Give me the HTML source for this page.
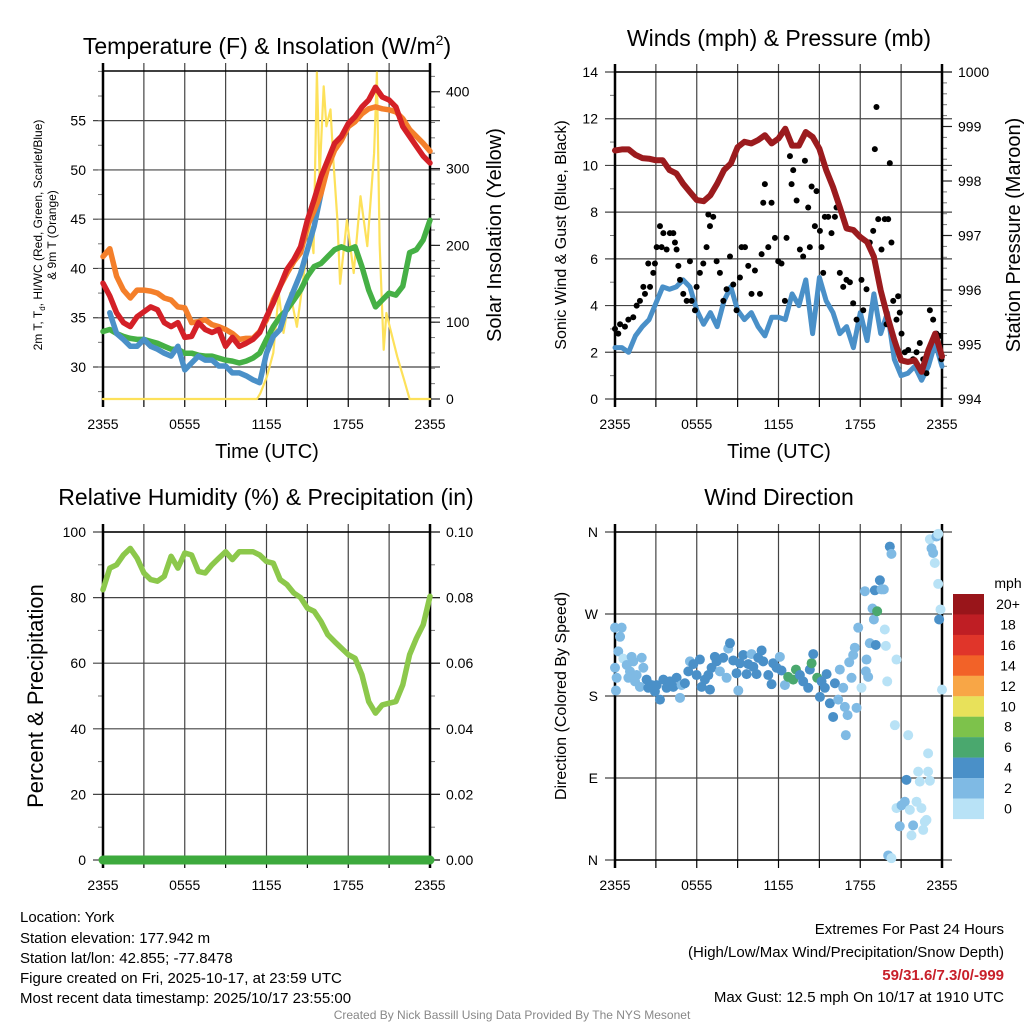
<!DOCTYPE html>
<html><head><meta charset="utf-8">
<style>
html,body{margin:0;padding:0;background:#fff;}
svg{display:block;font-family:"Liberation Sans",sans-serif;}
</style></head>
<body>
<svg id="chart" width="1024" height="1024" viewBox="0 0 1024 1024" xmlns="http://www.w3.org/2000/svg">
<rect width="1024" height="1024" fill="#fff"/>
<g id="p1"></g>
<g id="p2"></g>
<g id="p3"></g>
<g id="p4"></g>

<text x="267" y="54" font-size="23" text-anchor="middle">Temperature (F) &amp; Insolation (W/m<tspan font-size="14" dy="-9">2</tspan><tspan dy="9">)</tspan></text>
<text x="779" y="46" font-size="23" text-anchor="middle">Winds (mph) &amp; Pressure (mb)</text>
<text x="266" y="505" font-size="23" text-anchor="middle">Relative Humidity (%) &amp; Precipitation (in)</text>
<text x="779" y="505" font-size="23" text-anchor="middle">Wind Direction</text>

<text x="267" y="458" font-size="20" text-anchor="middle">Time (UTC)</text>
<text x="779" y="458" font-size="20" text-anchor="middle">Time (UTC)</text>

<text font-size="12" text-anchor="middle" transform="translate(42,235) rotate(-90)">2m T, T<tspan font-size="8" dy="3">d</tspan><tspan dy="-3">, HI/WC (Red, Green, Scarlet/Blue)</tspan></text>
<text font-size="12" text-anchor="middle" transform="translate(56,235) rotate(-90)">&amp; 9m T (Orange)</text>
<text font-size="20" text-anchor="middle" transform="translate(501,235) rotate(-90)">Solar Insolation (Yellow)</text>
<text font-size="16" text-anchor="middle" transform="translate(566,235) rotate(-90)">Sonic Wind &amp; Gust (Blue, Black)</text>
<text font-size="20" text-anchor="middle" transform="translate(1020,235) rotate(-90)">Station Pressure (Maroon)</text>
<text font-size="22" text-anchor="middle" transform="translate(43,696) rotate(-90)">Percent &amp; Precipitation</text>
<text font-size="16" text-anchor="middle" transform="translate(566,696) rotate(-90)">Direction (Colored By Speed)</text>

<g id="colorbar"></g>
<text x="1008" y="588" font-size="14" text-anchor="middle">mph</text>

<g font-size="15">
<text x="20" y="922">Location: York</text>
<text x="20" y="943">Station elevation: 177.942 m</text>
<text x="20" y="963">Station lat/lon: 42.855; -77.8478</text>
<text x="20" y="983">Figure created on Fri, 2025-10-17, at 23:59 UTC</text>
<text x="20" y="1003">Most recent data timestamp: 2025/10/17 23:55:00</text>
</g>
<g font-size="15" text-anchor="end">
<text x="1004" y="934">Extremes For Past 24 Hours</text>
<text x="1004" y="957">(High/Low/Max Wind/Precipitation/Snow Depth)</text>
<text x="1004" y="980" fill="#c8202a" font-weight="bold">59/31.6/7.3/0/-999</text>
<text x="1004" y="1002">Max Gust: 12.5 mph On 10/17 at 1910 UTC</text>
</g>
<text x="512" y="1019" font-size="12" fill="#888" text-anchor="middle">Created By Nick Bassill Using Data Provided By The NYS Mesonet</text>
</svg>
<script>
// ---------- data ----------
const xTickLabels = ["2355","0555","1155","1755","2355"];
const xTickHours = [0,6,12,18,24];
const tempTicks = [30,35,40,45,50,55];
const solarTicks = [0,100,200,300,400];
const windTicks = [0,2,4,6,8,10,12,14];
const presTicks = [994,995,996,997,998,999,1000];
const rhTicks = [0,20,40,60,80,100];
const precipTickLabels = ["0.00","0.02","0.04","0.06","0.08","0.10"];
const dirTickLabels = ["N","E","S","W","N"];
const dirTicks = [0,90,180,270,360];

// half-hourly series (49 points, 2355 .. 2355)
const temp2m = [38.5,37.2,35.5,34.5,34.1,35.1,35.6,36.1,35.8,34.5,34.1,34.5,33.0,33.1,34.5,33.8,33.5,33.8,32.1,33.0,32.1,32.4,32.8,33.5,35.1,36.5,38.2,39.9,40.9,42.2,44.9,47.0,49.3,51.0,52.7,53.4,54.7,55.4,56.4,57.1,58.4,57.4,57.1,56.4,54.4,53.4,52.4,51.4,50.7];
const temp9m = [41.2,42.0,39.2,37.8,37.0,37.8,37.8,37.7,37.5,37.0,36.8,36.1,36.0,34.5,34.6,34.8,34.3,34.1,33.8,33.4,32.8,32.9,32.9,33.6,34.8,36.8,38.2,39.5,40.7,41.6,44.3,45.9,47.6,50.3,52.0,53.0,54.4,54.9,55.7,56.2,56.4,56.2,56.1,55.9,55.2,54.1,53.4,52.7,51.9];
const windChill = [null,35.5,33.4,32.8,32.1,32.1,32.8,32.1,31.8,31.4,31.1,32.1,29.7,30.4,31.1,30.7,30.7,30.1,30.1,29.4,29.4,29.1,28.7,28.4,31.4,33.1,33.8,36.1,37.8,39.5,41.9,44.3,47.6,null,null,null,null,null,null,null,null,null,null,null,null,null,null,null,null];
const dewPoint = [33.6,33.8,33.4,33.1,32.9,32.8,32.8,32.6,32.4,32.1,31.8,31.8,31.4,31.4,31.2,31.1,31.1,30.9,30.7,30.6,30.4,30.6,30.9,31.4,32.8,34.1,35.1,35.8,36.8,37.8,39.2,40.2,40.5,41.2,41.9,42.2,41.9,42.2,40.2,37.8,36.1,36.8,37.5,37.3,38.2,41.6,41.9,42.9,44.9];
const solarHours = [0,11.3,11.54,12.03,12.5,12.9,13.25,13.74,14.23,14.72,15.2,15.45,15.7,15.9,16.2,16.4,16.7,16.9,17.2,17.4,17.9,18.4,18.9,19.4,19.9,20.1,20.3,20.6,20.8,21.1,21.6,22.1,22.5,24];
const solar = [0,0,7,29,60,138,86,138,94,160,225,190,425,290,407,355,377,312,233,150,233,164,264,199,320,425,203,64,112,90,55,25,0,0];
const pressure = [998.56,998.58,998.58,998.48,998.42,998.41,998.38,998.38,998.20,998.14,997.95,997.80,997.65,997.63,997.74,997.95,998.20,998.32,998.62,998.72,998.69,998.75,998.84,998.69,998.78,998.96,998.65,998.65,998.90,998.81,998.59,998.20,997.89,997.52,997.13,997.10,996.97,996.88,996.61,995.99,995.51,995.08,994.71,994.68,994.71,994.50,994.90,995.20,994.78];
const sonicWind = [2.2,2.2,2.0,2.7,3.1,3.4,4.1,4.8,4.7,4.8,5.1,4.8,3.8,3.2,3.7,3.1,4.2,4.8,3.8,3.4,3.7,3.1,2.7,3.5,3.5,3.4,4.5,4.0,5.1,2.8,5.2,4.2,3.7,2.8,3.1,2.2,3.7,2.5,4.5,2.8,3.7,1.7,1.0,1.1,1.4,0.8,1.4,2.4,1.4];
const gustHours = [0.0,0.24,0.37,0.73,0.98,1.34,1.59,1.83,2.08,2.2,2.44,2.57,2.81,2.93,3.06,3.3,3.42,3.55,3.79,4.03,4.28,4.4,4.52,4.65,4.77,5.01,5.26,5.5,5.62,5.87,5.99,6.23,6.48,6.72,6.85,6.97,7.21,7.46,7.7,7.95,8.19,8.44,8.68,8.92,9.17,9.29,9.54,9.78,10.02,10.27,10.64,10.76,10.88,11.0,11.25,11.49,11.74,11.98,12.22,12.47,12.59,12.84,12.96,13.08,13.33,13.57,13.81,13.94,14.18,14.3,14.43,14.67,14.79,15.04,15.16,15.28,15.4,15.65,15.89,16.14,16.26,16.5,16.75,16.99,17.24,17.48,17.73,18.09,18.22,18.46,18.7,18.95,19.07,19.19,19.32,19.56,19.8,19.93,20.05,20.17,20.29,20.42,20.66,20.78,20.9,21.03,21.27,21.52,21.88,22.13,22.37,22.62,22.86,23.11,23.35,23.59,23.84,23.96];
const gust = [3.0,2.8,3.2,3.1,3.4,3.5,4.0,4.2,4.8,4.5,5.8,4.8,5.4,5.8,6.5,7.4,6.5,7.1,6.4,7.1,7.1,6.7,6.4,5.7,5.1,4.5,4.2,5.9,4.2,3.8,4.8,5.4,5.8,6.5,7.9,7.4,7.8,5.9,5.4,4.2,4.7,6.1,4.9,3.8,5.2,6.5,6.5,5.7,4.5,5.5,4.5,6.2,8.4,9.2,6.5,8.4,6.9,5.9,5.8,4.2,6.9,10.4,9.2,9.8,8.5,6.4,6.1,10.2,8.2,6.5,9.1,7.4,8.9,7.2,6.5,5.4,7.8,7.8,7.1,7.8,8.2,5.4,4.8,5.1,5.0,4.1,3.4,5.1,3.8,4.7,6.7,7.2,10.7,12.5,7.7,6.4,7.7,3.2,7.7,10.1,6.7,4.2,3.4,4.4,3.7,2.8,2.0,2.1,1.7,2.0,2.4,1.7,1.1,3.8,3.4,2.8,2.7,1.7];
const humidity = [82.4,89,90,93,95,92,87.5,85.5,85,86.5,92.6,89,93.6,93,88,87.5,90,92,94,91.6,94,94,94,93,91,90.5,85.5,84,81.4,80,76.8,75.8,72.7,68.7,66.6,64.6,62.6,61.5,56.5,48.3,44.8,47.3,47.8,48.3,53.4,62.6,67.6,71.7,80.4];
const precip = [0,0];
const dirHours = [0.0,0.49,0.37,0.24,0.0,0.61,0.12,0.07,0.86,1.1,1.22,1.34,0.98,1.47,1.59,1.83,1.96,2.08,2.32,2.44,2.69,2.93,3.3,3.06,3.55,3.79,4.03,4.28,4.52,4.77,4.89,5.13,5.38,5.5,5.75,5.99,6.23,6.36,6.6,6.85,6.97,7.09,7.33,7.46,7.7,7.95,8.19,8.31,8.44,8.68,8.92,9.05,9.17,9.41,9.66,9.78,10.02,10.15,10.39,10.51,10.76,10.88,11.25,11.49,11.61,11.86,12.1,12.22,12.47,12.71,13.08,13.28,13.57,13.81,14.18,14.3,14.43,14.55,14.84,15.04,15.16,15.4,15.53,15.77,16.01,16.14,16.38,16.5,16.75,16.87,16.94,17.07,17.19,17.36,17.48,17.6,17.73,17.85,18.09,18.34,18.41,18.58,18.46,18.7,18.9,19.0,19.14,19.07,19.24,19.44,19.56,19.73,19.8,19.88,19.98,20.17,20.29,20.54,20.66,20.66,20.9,21.03,21.27,21.39,21.52,21.64,21.76,21.88,22.13,22.25,22.37,22.49,22.62,22.74,22.98,22.98,23.11,20.05,20.29,23.11,23.23,23.35,23.47,23.59,23.72,23.72,23.89,23.79,24.0,22.86];
const dirDegrees = [255,255,245,229,211,221,200,186,214,207,223,218,200,196,203,190,222,211,198,189,192,185,176,192,198,189,196,190,200,178,192,194,207,218,215,203,220,190,198,203,187,211,223,218,207,222,200,232,238,219,205,186,216,225,204,215,226,212,204,222,230,218,203,193,216,211,223,208,192,201,198,209,203,196,189,209,216,226,200,179,196,189,204,172,157,194,176,209,189,168,137,159,217,200,225,233,167,255,189,295,207,201,220,238,276,264,236,296,273,307,297,297,253,235,196,344,336,148,220,57,37,60,64,88,137,55,27,38,64,97,86,57,33,42,117,97,87,5,2,352,342,337,326,355,358,303,275,264,187,44];
const dirSpeed = [3,3,3,3,3,1,3,3,3,3,3,3,3,3,3,3,3,3,5,5,5,5,5,5,5,5,5,5,5,3,3,5,5,3,5,5,5,5,5,5,5,5,5,5,3,5,3,3,5,5,5,3,5,5,5,5,3,5,5,5,5,5,5,5,5,5,3,5,3,7,7,7,5,5,5,5,7,5,7,5,5,5,5,5,5,5,3,3,3,3,3,3,3,3,3,3,3,3,1,3,3,3,3,3,3,3,5,5,7,5,3,3,1,1,1,5,3,1,1,1,3,3,3,5,1,1,1,3,1,1,1,1,1,1,1,1,1,3,1,1,3,3,1,3,1,1,1,5,1,1];
const speedLevels = ["20+","18","16","14","12","10","8","6","4","2","0"];
const speedColors = ["#99151a","#bf1e24","#e0352a","#f26228","#f8a646","#e8e15a","#7dc24b","#4aa86e","#4a90c8","#7fbae4","#b8e2f6"];

// ---------- helpers ----------
const NS = "http://www.w3.org/2000/svg";
function mk(parent, tag, attrs) {
  const el = document.createElementNS(NS, tag);
  for (const k in attrs) el.setAttribute(k, attrs[k]);
  parent.appendChild(el);
  return el;
}
function scale(d0, d1, r0, r1) { return v => r0 + (v - d0) / (d1 - d0) * (r1 - r0); }
function halfHour(i) { return i * 0.5; }

function panel(g, box, leftDom, rightDom) {
  return {
    x: scale(0, 24, box.x0, box.x1),
    yl: scale(leftDom[0], leftDom[1], box.y1, box.y0),
    yr: rightDom ? scale(rightDom[0], rightDom[1], box.y1, box.y0) : null,
    box: box, g: g
  };
}
function drawFrame(p, leftTicks, leftLabels, rightTicks, rightLabels, leftMinor, rightMinor) {
  const b = p.box, g = p.g;
  const grid = mk(g, "g", {});
  
  
  for (let h = 3; h < 24; h += 3) {
    const l = mk(grid, "line", {x1: p.x(h), x2: p.x(h), y1: b.y0 - 8, y2: b.y1, stroke: "#444", "stroke-width": 1.2});
    
    
  }
  leftTicks.forEach(v => {
    const y = p.yl(v);
    const l = mk(grid, "line", {x1: b.x0 - 10, x2: b.x1 + 10, y1: y, y2: y, stroke: "#444", "stroke-width": 1.2});
    
    
  });
  leftMinor.forEach(v => {
    const y = p.yl(v);
    mk(grid, "line", {x1: b.x0 - 5, x2: b.x0, y1: y, y2: y, stroke: "#777", "stroke-width": 1});
  });
  if (p.yr) rightMinor.forEach(v => {
    const y = p.yr(v);
    mk(grid, "line", {x1: b.x1, x2: b.x1 + 5, y1: y, y2: y, stroke: "#777", "stroke-width": 1});
  });
  if (p.yr) rightTicks.forEach(v => {
    const y = p.yr(v);
    mk(grid, "line", {x1: b.x1, x2: b.x1 + 10, y1: y, y2: y, stroke: "#222", "stroke-width": 1.2});
  });
  const frame = mk(g, "rect", {x: b.x0, y: b.y0, width: b.x1 - b.x0, height: b.y1 - b.y0, fill: "none", stroke: "#000", "stroke-width": 1.5});
  
  
  mk(g, "line", {x1: b.x0, x2: b.x0, y1: b.y0 - 8, y2: b.y1 + 8, stroke: "#000", "stroke-width": 2.5});
  mk(g, "line", {x1: b.x1, x2: b.x1, y1: b.y0 - 8, y2: b.y1 + 8, stroke: "#000", "stroke-width": 2.5});
  for (let h = 3; h < 24; h += 3) mk(g, "line", {x1: p.x(h), x2: p.x(h), y1: b.y1, y2: b.y1 + 8, stroke: "#000", "stroke-width": 1.2});
  xTickHours.forEach((h, i) => {
    const t = mk(g, "text", {x: p.x(h), y: b.y1 + 30, "font-size": 14, "text-anchor": "middle"});
    t.textContent = xTickLabels[i];
    
    
  });
  leftTicks.forEach((v, i) => {
    const t = mk(g, "text", {x: b.x0 - 17, y: p.yl(v) + 5, "font-size": 14, "text-anchor": "end"});
    t.textContent = leftLabels[i];
    
    
  });
  if (p.yr) rightTicks.forEach((v, i) => {
    const t = mk(g, "text", {x: b.x1 + 16, y: p.yr(v) + 5, "font-size": 14, "text-anchor": "start"});
    t.textContent = rightLabels[i];
    
    
  });
}
function line(p, g, xs, ys, yfn, color, w, name) {
  let d = "", pen = false;
  for (let i = 0; i < ys.length; i++) {
    if (ys[i] === null) { pen = false; continue; }
    d += (pen ? "L" : "M") + p.x(xs(i)).toFixed(1) + "," + yfn(ys[i]).toFixed(1);
    pen = true;
  }
  const el = mk(g, "path", {d: d, fill: "none", stroke: color, "stroke-width": w, "stroke-linejoin": "round", "stroke-linecap": "round"});
  
  
  return el;
}
function range(a, b, s) { const r = []; for (let v = a; v <= b + 1e-9; v += s) r.push(+v.toFixed(4)); return r; }

// ---------- panel 1 ----------
const g1 = document.getElementById("p1");
const P1 = panel(g1, {x0: 103, x1: 430, y0: 71, y1: 399}, [26.75, 60.04], [0, 427]);
drawFrame(P1, tempTicks, tempTicks.map(String), solarTicks, solarTicks.map(String), range(27.5, 60, 2.5), range(0, 420, 20));
const c1 = mk(g1, "g", {});
line(P1, c1, i => solarHours[i], solar.map(v => Math.min(v, 427)), P1.yr, "#fde15a", 2.2, "solar-insolation-line");
line(P1, c1, halfHour, dewPoint, P1.yl, "#45b045", 5.5, "dewpoint-line");
line(P1, c1, halfHour, windChill, P1.yl, "#4a90c8", 5.5, "wind-chill-line");
line(P1, c1, halfHour, temp9m, P1.yl, "#f47f2a", 5.5, "temperature-9m-line");
line(P1, c1, halfHour, temp2m, P1.yl, "#d42027", 5.5, "temperature-2m-line");

// ---------- panel 2 ----------
const g2 = document.getElementById("p2");
const P2 = panel(g2, {x0: 615, x1: 942, y0: 72, y1: 399}, [0, 14], [994, 1000]);
drawFrame(P2, windTicks, windTicks.map(String), presTicks, presTicks.map(String), range(1, 13, 2), range(994, 1000, 0.2));
line(P2, g2, halfHour, sonicWind, P2.yl, "#4a90c8", 5, "sonic-wind-line");
gust.forEach((v, i) => {
  const c = mk(g2, "circle", {cx: P2.x(gustHours[i]), cy: P2.yl(v), r: 3.0, fill: "#000"});
  
  
});
line(P2, g2, halfHour, pressure, P2.yr, "#9b1b1e", 6, "pressure-line");

// ---------- panel 3 ----------
const g3 = document.getElementById("p3");
const P3 = panel(g3, {x0: 103, x1: 430, y0: 532, y1: 860}, [0, 100], [0, 0.1]);
drawFrame(P3, rhTicks, rhTicks.map(String), [0, 0.02, 0.04, 0.06, 0.08, 0.1], precipTickLabels, range(10, 90, 20), range(0.01, 0.09, 0.01));
line(P3, g3, halfHour, humidity, P3.yl, "#8cc84b", 5.5, "humidity-line");
line(P3, g3, i => i * 24, precip, P3.yr, "#3daa3d", 9, "precipitation-line");

// ---------- panel 4 ----------
const g4 = document.getElementById("p4");
const P4 = panel(g4, {x0: 615, x1: 942, y0: 532, y1: 860}, [0, 360], null);
drawFrame(P4, dirTicks, dirTickLabels, [], [], [], []);
function speedColor(s) {
  const idx = Math.min(10, Math.floor(s / 2));
  return speedColors[10 - idx];
}
dirDegrees.forEach((v, i) => {
  const c = mk(g4, "circle", {cx: P4.x(dirHours[i]), cy: P4.yl(v), r: 5.0, fill: speedColor(dirSpeed[i])});
  
  
});

// ---------- colorbar ----------
const cb = document.getElementById("colorbar");
speedLevels.forEach((lab, i) => {
  const y = 594 + i * 20.45;
  const r = mk(cb, "rect", {x: 953, y: y, width: 31, height: 20.6, fill: speedColors[i]});
  
  
  const t = mk(cb, "text", {x: 1008, y: y + 15, "font-size": 14, "text-anchor": "middle"});
  t.textContent = lab;
  
  
});
</script>
</body></html>
